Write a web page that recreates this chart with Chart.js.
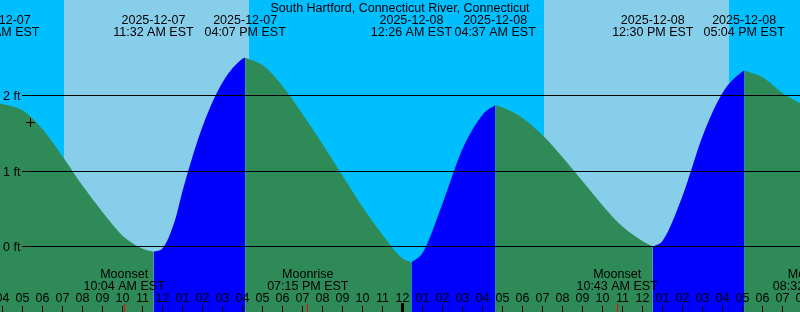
<!DOCTYPE html>
<html>
<head>
<meta charset="utf-8">
<script src="https://cdn.jsdelivr.net/npm/chart.js@4.4.1/dist/chart.umd.min.js"></script>
<style>
html, body { margin: 0; padding: 0; background: #00bfff; }
canvas { display: block; }
</style>
</head>
<body>
<canvas id="tideChart" width="800" height="312"></canvas>
<script>
// hours are counted from 2025-12-07 00:00 EST, levels in feet
var tideHours  = [3.8, 5, 6, 7, 8, 9, 10, 11, 11.533, 12, 12.6, 13, 14, 15, 16, 16.117, 17, 18, 19, 20, 21, 22, 23, 24, 24.433, 25, 26, 27, 28, 28.617, 29, 30, 31, 32, 33, 34, 35, 36, 36.5, 37, 38, 39, 40, 41, 41.067, 42, 43, 43.9];
var tideLevels = [1.90, 1.80, 1.55, 1.19, 0.80, 0.45, 0.14, -0.03, -0.07, -0.02, 0.34, 0.75, 1.60, 2.18, 2.49, 2.50, 2.40, 2.12, 1.75, 1.35, 0.93, 0.52, 0.15, -0.16, -0.21, -0.08, 0.58, 1.30, 1.75, 1.87, 1.84, 1.70, 1.47, 1.18, 0.86, 0.54, 0.26, 0.07, 0.00, 0.08, 0.68, 1.47, 2.04, 2.32, 2.33, 2.24, 2.03, 1.89];

// high / low tides
var tideEventHours = [3.8, 11.533, 16.117, 24.433, 28.617, 36.5, 41.067];
var tideEventDates = ['2025-12-07', '2025-12-07', '2025-12-07', '2025-12-08', '2025-12-08', '2025-12-08', '2025-12-08'];
var tideEventTimes = ['03:48 AM EST', '11:32 AM EST', '04:07 PM EST', '12:26 AM EST', '04:37 AM EST', '12:30 PM EST', '05:04 PM EST'];

// moon
var moonHours = [10.067, 19.25, 34.717, 44.533];
var moonNames = ['Moonset', 'Moonrise', 'Moonset', 'Moonrise'];
var moonTimes = ['10:04 AM EST', '07:15 PM EST', '10:43 AM EST', '08:32 PM EST'];

// daylight
var sunriseHours = [7.06, 31.06];
var sunsetHours  = [16.31, 40.31];

// y axis
var levelTicks  = [0, 1, 2];
var levelLabels = ['0 ft', '1 ft', '2 ft'];

// mark
var markHours  = [5.385];
var markLevels = [1.642];

var titleText = 'South Hartford, Connecticut River, Connecticut';
var startHour = 3.86, endHour = 43.86;
var font = '12.5px "Liberation Sans", Arial, sans-serif';

// split the curve at each high / low, rising = blue, falling = green
var datasets = [];
datasets.push({
    type: 'scatter',
    data: markHours.map(function (h, i) { return { x: h, y: markLevels[i] }; }),
    pointStyle: 'cross',
    pointRadius: 4.5,
    borderColor: '#000',
    borderWidth: 1,
    order: -1
});
var bounds = tideEventHours.concat([endHour + 1]);
for (var s = 0; s < bounds.length - 1; s++) {
    var pts = [];
    for (var i = 0; i < tideHours.length; i++) {
        if (tideHours[i] >= bounds[s] - 1e-6 && tideHours[i] <= bounds[s + 1] + 1e-6) {
            pts.push({ x: tideHours[i], y: tideLevels[i] });
        }
    }
    if (pts.length < 2) continue;
    var rising = pts[pts.length - 1].y > pts[0].y;
    datasets.push({
        data: pts,
        fill: 'start',
        backgroundColor: rising ? '#0000ff' : '#2e8b57',
        borderWidth: 0,
        pointRadius: 0,
        cubicInterpolationMode: 'monotone'
    });
}

var backgroundPlugin = {
    id: 'tideBackground',
    beforeDatasetsDraw: function (chart) {
        var ctx = chart.ctx, xs = chart.scales.x, a = chart.chartArea;
        ctx.save();
        ctx.fillStyle = '#00bfff';
        ctx.fillRect(a.left, a.top, a.right - a.left, a.bottom - a.top);
        ctx.fillStyle = '#87ceeb';
        for (var i = 0; i < sunriseHours.length; i++) {
            var x1 = Math.round(xs.getPixelForValue(sunriseHours[i]));
            var x2 = Math.round(xs.getPixelForValue(sunsetHours[i]));
            ctx.fillRect(x1, a.top, x2 - x1, a.bottom - a.top);
        }
        ctx.restore();
    }
};

var labelPlugin = {
    id: 'tideLabels',
    afterDatasetsDraw: function (chart) {
        var ctx = chart.ctx, xs = chart.scales.x, ys = chart.scales.y, a = chart.chartArea;
        ctx.save();
        ctx.font = font;
        ctx.fillStyle = '#000';
        ctx.strokeStyle = '#000';
        ctx.lineWidth = 1;

        // level lines
        ctx.textAlign = 'left';
        levelTicks.forEach(function (v, i) {
            var y = Math.floor(ys.getPixelForValue(v)) + 0.5;
            ctx.beginPath();
            ctx.moveTo(22, y);
            ctx.lineTo(a.right, y);
            ctx.stroke();
            ctx.fillText(levelLabels[i], 3, y + 4);
        });

        // title and tide events
        ctx.textAlign = 'center';
        ctx.fillText(titleText, 400, 12);
        tideEventHours.forEach(function (h, i) {
            var x = xs.getPixelForValue(h);
            ctx.fillText(tideEventDates[i], x, 24);
            ctx.fillText(tideEventTimes[i], x, 36);
        });

        // moon events
        moonHours.forEach(function (h, i) {
            var x = xs.getPixelForValue(h);
            ctx.fillText(moonNames[i], x, 278);
            ctx.fillText(moonTimes[i], x, 290);
        });

        // hour ticks
        for (var h = Math.ceil(startHour); h <= endHour + 1; h++) {
            var x = Math.floor(xs.getPixelForValue(h)) + 0.5;
            var hr = h % 12 === 0 ? 12 : h % 12;
            ctx.fillText((hr < 10 ? '0' : '') + hr, x, 302);
            if (h % 24 === 0) {
                ctx.fillRect(x - 1.5, 303, 3, 9);
            } else {
                ctx.beginPath();
                ctx.moveTo(x, 306);
                ctx.lineTo(x, 312);
                ctx.stroke();
            }
        }
        ctx.strokeStyle = '#ff0000';
        moonHours.forEach(function (h) {
            var x = Math.floor(xs.getPixelForValue(h)) + 0.5;
            ctx.beginPath();
            ctx.moveTo(x, 304);
            ctx.lineTo(x, 312);
            ctx.stroke();
        });
        ctx.restore();
    }
};

var ctx = document.getElementById('tideChart');
var tideChart = new Chart(ctx, {
    type: 'line',
    data: { datasets: datasets },
    options: {
        responsive: false,
        animation: false,
        layout: { padding: 0, autoPadding: false },
        plugins: {
            legend: { display: false },
            tooltip: { enabled: false }
        },
        scales: {
            x: { type: 'linear', min: startHour, max: endHour, display: false },
            y: { min: -0.8675, max: 3.265, display: false }
        }
    },
    plugins: [backgroundPlugin, labelPlugin]
});
</script>
</body>
</html>
